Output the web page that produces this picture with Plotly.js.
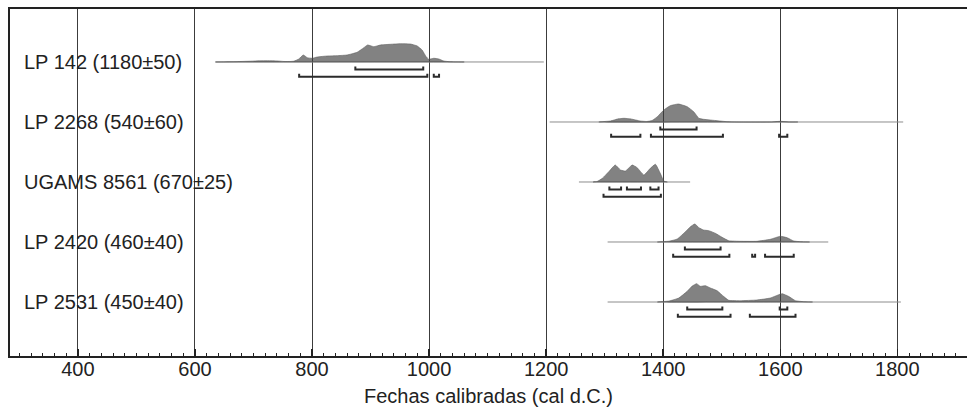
<!DOCTYPE html>
<html>
<head>
<meta charset="utf-8">
<script src="https://cdn.plot.ly/plotly-3.0.1.min.js"></script>
<style>html,body{margin:0;padding:0;background:#fff;}#chart{width:967px;height:407px;}</style>
</head>
<body>
<div id="chart"></div>
<script>
// Sample labels (top to bottom) and their row positions
const labels = ["LP 142 (1180±50)", "LP 2268 (540±60)", "UGAMS 8561 (670±25)", "LP 2420 (460±40)", "LP 2531 (450±40)"];
const rows = [5, 4, 3, 2, 1];

// Extent of each sample's baseline (cal AD)
const lineStart = [635, 1206, 1256, 1305, 1305];
const lineEnd = [1196, 1810, 1446, 1682, 1806];

// Probability distributions (year, relative probability)
const lp142X = [635, 666, 695, 710, 724, 740, 752, 763, 769, 777.5, 785, 792, 800, 809, 826, 843, 860, 877, 888.5, 895, 905.6, 917, 934, 951, 968, 979.7, 988, 995, 999.5, 1008, 1016.6, 1025, 1034, 1045, 1060];
const lp142P = [0, 0.3, 0.8, 1.2, 1.3, 1.1, 0.5, 0.5, 0.8, 3, 7, 4.3, 3.7, 5, 6, 6.3, 7, 9.7, 14.3, 17, 15.3, 17, 17.7, 18.3, 18, 16, 12, 5.3, 2.7, 3.7, 3, 1, 0.3, 0.1, 0];

const lp2268X = [1290, 1310, 1322, 1333, 1345, 1361, 1372, 1381, 1390, 1401, 1412, 1426, 1441, 1452, 1461, 1469, 1492, 1509, 1530, 1585, 1600, 1615, 1630];
const lp2268P = [0, 1, 3, 3.7, 3, 1, 0.5, 1.5, 5.3, 12, 16.3, 18, 15.3, 10.3, 3.7, 2.7, 1.3, 0.3, 0, 0, 0.7, 0, 0];

const ugamsX = [1280, 1287, 1296, 1307, 1318, 1327, 1335.5, 1347, 1355.5, 1367, 1378, 1386.7, 1395, 1401, 1407];
const ugamsP = [0, 0.5, 3.7, 10.3, 17, 12, 11, 17, 14.3, 7, 13.7, 17.7, 8.7, 1, 0];

const lp2420X = [1390, 1410, 1424, 1438, 1446.5, 1454, 1461, 1469, 1478, 1489, 1500.6, 1512, 1532, 1560, 1583, 1600, 1611.6, 1623, 1634, 1650];
const lp2420P = [0, 0.8, 3, 10.3, 15.3, 18, 14.3, 12, 11.3, 8.7, 4.7, 1.3, 0.7, 0.7, 2.7, 5.7, 4.3, 1, 0.3, 0];

const lp2531X = [1390, 1410, 1426.5, 1441, 1449, 1457, 1463.5, 1472, 1480.6, 1492, 1503, 1512, 1532, 1560, 1583, 1603, 1614, 1626, 1640, 1655];
const lp2531P = [0, 1, 4, 10.7, 15.7, 18.3, 15.7, 16.3, 14, 11.3, 5.7, 1.7, 1.3, 2, 4, 8.3, 5.7, 1.3, 0.3, 0];

// 68.2% and 95.4% ranges
const range68 = [
  [[874, 990]],
  [[1395, 1457]],
  [[1308, 1328], [1338, 1362], [1378, 1392]],
  [[1437, 1498]],
  [[1441, 1501], [1599, 1612]]
];
const range95 = [
  [[778, 997], [1008, 1017]],
  [[1311, 1361], [1379, 1502], [1598, 1612]],
  [[1298, 1396]],
  [[1417, 1513], [1552, 1557], [1574, 1623]],
  [[1425, 1515], [1548, 1626]]
];

const xTicks = [400, 600, 800, 1000, 1200, 1400, 1600, 1800];
const xTitle = "Fechas calibradas (cal d.C.)";

// ---- build traces ----
const distX = [lp142X, lp2268X, ugamsX, lp2420X, lp2531X];
const distP = [lp142P, lp2268P, ugamsP, lp2420P, lp2531P];
const pxPerUnit = 60; // row spacing in pixels -> probability heights were read in pixels
const off68 = 7.5 / pxPerUnit, off95 = 14.8 / pxPerUnit, tickH = 3 / pxPerUnit;

const traces = [];
rows.forEach((r, i) => {
  traces.push({x: [lineStart[i], lineEnd[i]], y: [r, r], mode: 'lines', line: {color: '#8c8c8c', width: 1}, hoverinfo: 'skip', showlegend: false});
});
rows.forEach((r, i) => {
  const xs = distX[i].slice(), ys = distP[i].map(p => r + p / pxPerUnit);
  xs.push(distX[i][distX[i].length - 1], distX[i][0]);
  ys.push(r, r);
  traces.push({x: xs, y: ys, mode: 'lines', fill: 'toself', fillcolor: 'rgba(60,60,60,0.64)', line: {color: 'rgba(90,90,90,0.8)', width: 0.7, shape: 'spline', smoothing: 0.4}, hoverinfo: 'skip', showlegend: false});
});
function bracketTrace(ranges, yb) {
  const xs = [], ys = [];
  ranges.forEach(([a, b]) => {
    xs.push(a, a, b, b, null);
    ys.push(yb + tickH, yb, yb, yb + tickH, null);
  });
  return {x: xs, y: ys, mode: 'lines', line: {color: '#2b2b2b', width: 2}, connectgaps: false, hoverinfo: 'skip', showlegend: false};
}
rows.forEach((r, i) => {
  traces.push(bracketTrace(range68[i], r - off68));
  traces.push(bracketTrace(range95[i], r - off95));
});

const font = {family: 'Liberation Sans, Arial, sans-serif', size: 20, color: '#222'};
const annotations = labels.map((t, i) => ({
  text: t, xref: 'paper', yref: 'y', x: 0.0125, y: rows[i], xanchor: 'left', yanchor: 'middle', showarrow: false, font: font
}));

const layout = {
  width: 967, height: 407,
  margin: {l: 10, r: 0, t: 9, b: 51},
  paper_bgcolor: '#fff', plot_bgcolor: '#fff',
  showlegend: false, hovermode: false,
  font: font,
  xaxis: {
    range: [284, 1919], tickmode: 'array', tickvals: xTicks, ticktext: xTicks.map(String),
    showgrid: true, gridcolor: '#3c3c3c', gridwidth: 1, zeroline: false,
    ticks: 'inside', ticklen: 7, tickwidth: 1.5, tickcolor: '#222',
    ticklabelstandoff: -6,
    minor: {dtick: 20, tick0: 0, ticks: 'inside', ticklen: 3, tickwidth: 1, tickcolor: '#222', showgrid: false},
    showline: true, linewidth: 2, linecolor: '#222', mirror: true,
    tickfont: font,
    title: {text: xTitle, font: font, standoff: 12}
  },
  yaxis: {
    range: [0.1, 5.883], showgrid: false, zeroline: false, showticklabels: false, ticks: '',
    showline: true, linewidth: 2, linecolor: '#222', mirror: false
  },
  annotations: annotations
};

Plotly.newPlot('chart', traces, layout, {displayModeBar: false, staticPlot: true});
</script>
</body>
</html>
